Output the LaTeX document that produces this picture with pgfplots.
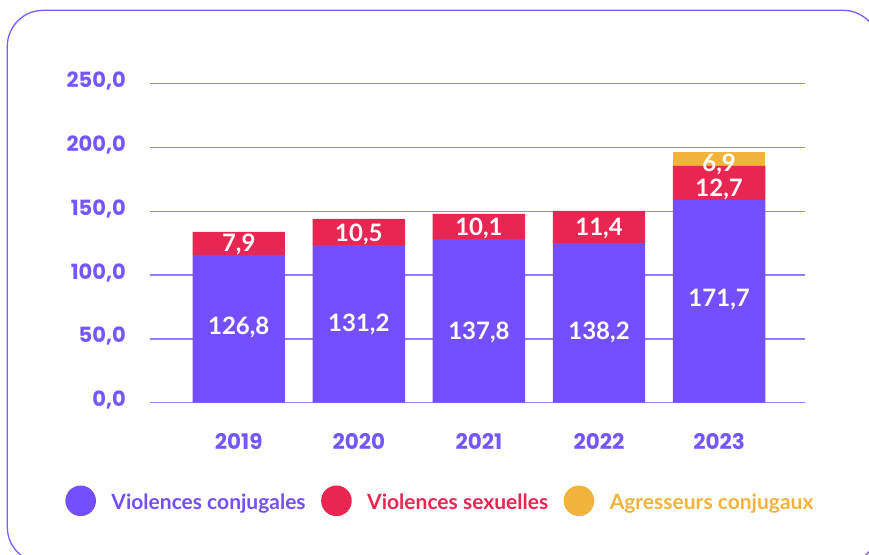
\documentclass[border=0pt]{standalone}
\usepackage{fontspec}
\usepackage{pgfplots}
\pgfplotsset{compat=1.18}
\usepackage{pgfplotstable}
\setmainfont{Lato}
\newfontfamily\lato{Lato}
\newfontfamily\pop{Poppins}
\definecolor{cblue}{HTML}{734FFF}
\definecolor{cred}{HTML}{E92551}
\definecolor{cyellow}{HTML}{F2B33D}
\definecolor{ctick}{HTML}{7557FF}
\definecolor{cgrid}{HTML}{9580FF}
\definecolor{cframe}{HTML}{7B5CFF}

\pgfplotstableread{
x blue red yellow
0 115.7 18.0 0
1 123.5 20.4 0
2 128.2 19.6 0
3 125.1 25.1 0
4 158.8 26.6 11.0
}\bars

\pgfplotstableread{
x y l
0 53.8 126,8
0 118.3 7,9
1 55.6 131,2
1 126.1 10,5
2 49.7 137,8
2 130.6 10,1
3 49.7 138,2
3 130.6 11,4
4 75.2 171,7
4 161.3 12,7
4 180.9 6,9
}\labels

\begin{document}
\begin{tikzpicture}
\useasboundingbox (0bp,0bp) rectangle (869bp,555bp);
\clip (0bp,0bp) rectangle (869bp,555bp);
\draw[cframe, line width=1.3bp, rounded corners=36bp] (7.3bp,544.7bp) rectangle (879bp,-8bp);
\begin{axis}[
  at={(150bp,152.3bp)}, anchor=south west,
  scale only axis, width=655bp, height=319.2bp,
  xmin=-0.739, xmax=4.715, ymin=0, ymax=250,
  ybar stacked, bar width=92.4bp,
  axis line style={draw=none}, major tick length=0pt,
  ymajorgrids, grid style={draw=cgrid, line width=1.3bp},
  xtick={0,1,2,3,4}, xticklabels={2019,2020,2021,2022,2023},
  ytick={0,50,100,150,200,250},
  yticklabels={{0,0},{50,0},{100,0},{150,0},{200,0},{250,0}},
  xticklabel style={font=\pop\bfseries\fontsize{21.5bp}{22bp}\selectfont, text=ctick, anchor=base, inner sep=0pt, yshift=-46.6bp},
  yticklabel style={font=\pop\bfseries\fontsize{21bp}{22bp}\selectfont, text=ctick, anchor=base east, inner sep=0pt, xshift=-24bp, yshift=-4bp},
  legend columns=3,
  legend style={at={(-0.1292,-0.3074)}, anchor=west, draw=none, fill=none, inner sep=0pt, outer sep=0pt,
    column sep=15.5bp, font=\lato\bfseries\fontsize{21bp}{21bp}\selectfont, nodes={inner sep=0pt}},
]
\addplot[fill=cblue, draw=none, legend image code/.code={\fill[cblue] (15bp,2bp) circle (15.3bp);}] table[x=x, y=blue]{\bars};
\addlegendentry{\textcolor{cblue}{Violences conjugales}}
\addplot[fill=cred, draw=none, legend image code/.code={\fill[cred] (15bp,2bp) circle (15.3bp);}] table[x=x, y=red]{\bars};
\addlegendentry{\textcolor{cred}{Violences sexuelles}}
\addplot[fill=cyellow, draw=none, legend image code/.code={\fill[cyellow] (15bp,2bp) circle (15.3bp);}] table[x=x, y=yellow]{\bars};
\addlegendentry{\textcolor{cyellow}{Agresseurs conjugaux}}
\end{axis}
\begin{axis}[
  at={(150bp,152.3bp)}, anchor=south west,
  scale only axis, width=655bp, height=319.2bp,
  xmin=-0.739, xmax=4.715, ymin=0, ymax=250,
  hide axis, clip=false,
]
\addplot[draw=none, mark=none, nodes near coords, point meta=explicit symbolic,
  every node near coord/.append style={anchor=base, inner sep=0pt, text=white, font=\lato\bfseries\fontsize{24bp}{24bp}\selectfont}]
  table[x=x, y=y, meta=l]{\labels};
\end{axis}
\end{tikzpicture}
\end{document}
